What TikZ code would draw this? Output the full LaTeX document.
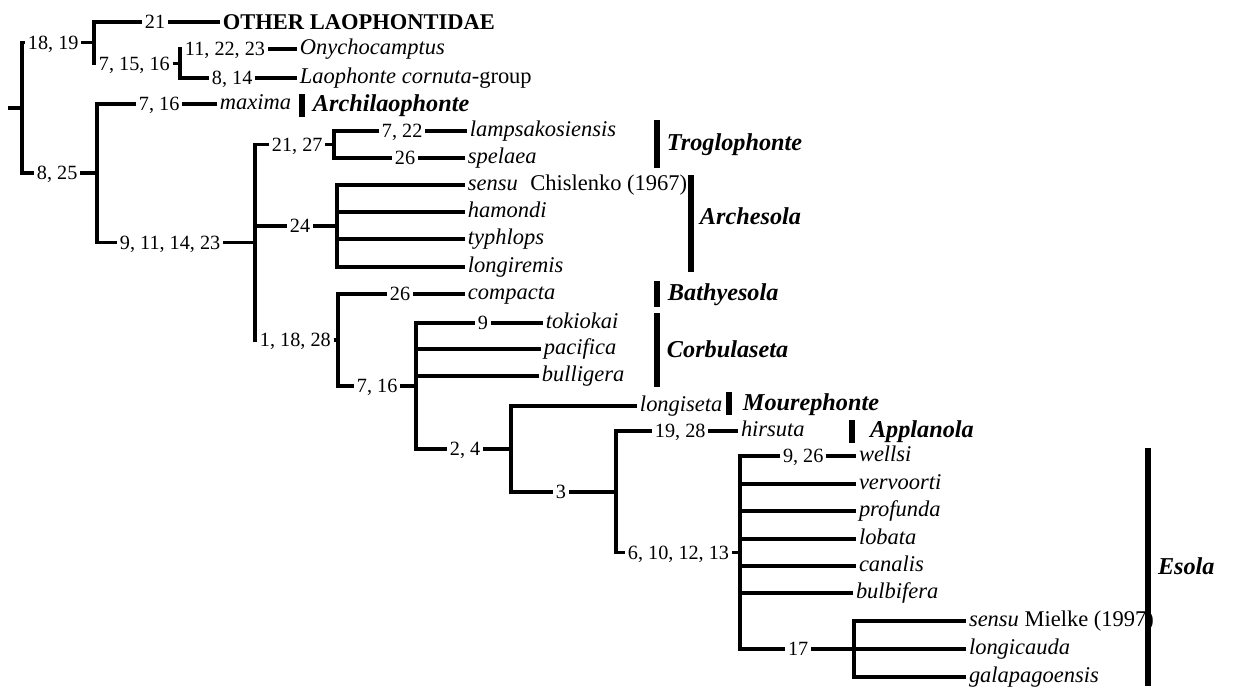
\documentclass[tikz,border=0pt]{standalone}
\usepackage{fontspec}
\setmainfont{Liberation Serif}
\usetikzlibrary{calc}

\tikzset{
	tree/.style={line width=2pt},
	gbar/.style={line width=3.2pt},
	lbl/.style={anchor=west, inner sep=1.5pt, text depth=0pt},
	num/.style={lbl, text height=7.8pt, font=\fontsize{11.5}{13}\selectfont},
	taxon/.style={lbl, text height=6.2pt, font=\fontsize{12.8}{14}\selectfont\itshape},
	outgroup/.style={lbl, text height=8.4pt, font=\fontsize{12.8}{14}\selectfont\bfseries},
	genus/.style={lbl, text height=9pt, font=\fontsize{13.8}{15}\selectfont\bfseries\itshape}
}

\newcommand{\genus}[7] % name, x of bar, top, bottom, label x, label y, text
{
	% bar
	\draw[gbar] (#2,#3) -- (#2,#4);
	% genus name
	\node[genus] (#1) at (#5,#6) {#7};
}

\begin{document}
\begin{tikzpicture}[x=0.02cm, y=-0.02cm]
	% pixel grid of the figure, y downwards
	\useasboundingbox (0,0) rectangle (1253,686);

	% character numbers
	\node[num] (n1819) at (25,42.5) {18, 19};
	\node[num] (n21) at (142,22) {21};
	\node[num] (n71516) at (96,63.5) {7, 15, 16};
	\node[num] (n112223) at (182,49) {11, 22, 23};
	\node[num] (n814) at (209,78) {8, 14};
	\node[num] (n825) at (34,173) {8, 25};
	\node[num] (n716a) at (136,104) {7, 16};
	\node[num] (n9111423) at (117,242.5) {9, 11, 14, 23};
	\node[num] (n2127) at (269,144.5) {21, 27};
	\node[num] (n722) at (379,131) {7, 22};
	\node[num] (n26a) at (392,158) {26};
	\node[num] (n24) at (287,226) {24};
	\node[num] (n11828) at (257,340) {1, 18, 28};
	\node[num] (n26b) at (387,294) {26};
	\node[num] (n716b) at (354,386) {7, 16};
	\node[num] (n9) at (475,323) {9};
	\node[num] (n24b) at (447,449) {2, 4};
	\node[num] (n3) at (553,492) {3};
	\node[num] (n1928) at (652,431) {19, 28};
	\node[num] (n6101213) at (625,552.5) {6, 10, 12, 13};
	\node[num] (n926) at (780,456) {9, 26};
	\node[num] (n17) at (785,649) {17};

	% terminal taxa
	\node[outgroup] (other) at (220,22) {OTHER LAOPHONTIDAE};
	\node[taxon] (onycho) at (297,49) {Onychocamptus};
	\node[taxon] (laoph) at (297,78) {Laophonte cornuta\textup{-group}};
	\node[taxon] (maxima) at (217,104) {maxima};
	\node[taxon] (lamps) at (467,131) {lampsakosiensis};
	\node[taxon] (spelaea) at (465,158) {spelaea};
	\node[taxon] (chislenko) at (465,185) {sensu\hspace{0.55em}\textup{Chislenko (1967)}};
	\node[taxon] (hamondi) at (465,212) {hamondi};
	\node[taxon] (typhlops) at (465,239) {typhlops};
	\node[taxon] (longiremis) at (465,267) {longiremis};
	\node[taxon] (compacta) at (465,294) {compacta};
	\node[taxon] (tokiokai) at (543,323) {tokiokai};
	\node[taxon] (pacifica) at (541,349) {pacifica};
	\node[taxon] (bulligera) at (539,376) {bulligera};
	\node[taxon] (longiseta) at (637,406) {longiseta};
	\node[taxon] (hirsuta) at (738,431) {hirsuta};
	\node[taxon] (wellsi) at (856,456) {wellsi};
	\node[taxon] (vervoorti) at (856,484) {vervoorti};
	\node[taxon] (profunda) at (856,511) {profunda};
	\node[taxon] (lobata) at (856,539) {lobata};
	\node[taxon] (canalis) at (856,566) {canalis};
	\node[taxon] (bulbifera) at (853,593) {bulbifera};
	\node[taxon] (mielke) at (966,621) {sensu \textup{Mielke (1997)}};
	\node[taxon] (longicauda) at (966,649) {longicauda};
	\node[taxon] (galapagoensis) at (966,677) {galapagoensis};

	% split points
	\coordinate (root) at (8,107.75);
	\coordinate (b0) at (22,107.75);
	\coordinate (b1) at (94,42.5);
	\coordinate (b2) at (180,63.5);
	\coordinate (b3) at (97,173);
	\coordinate (b4) at (255,242.5);
	\coordinate (b5) at (334,144.5);
	\coordinate (b6) at (337,226);
	\coordinate (b7) at (338,340);
	\coordinate (b8) at (416,386);
	\coordinate (b9) at (511,449);
	\coordinate (b10) at (616,492);
	\coordinate (b11) at (740,552.5);
	\coordinate (b12) at (854,649);

	% branches
	\draw[tree] (root) -- (b0);
	\draw[tree] (n1819.west) -| (b0) |- (n825.west);
	\draw[tree] (n1819.east) -- (b1);
	\draw[tree] (n21.west) -| (b1) |- (n71516.west);
	\draw[tree] (n21.east) -- (other.west);
	\draw[tree] (n71516.east) -- (b2);
	\draw[tree] (n112223.west) -| (b2) |- (n814.west);
	\draw[tree] (n112223.east) -- (onycho.west);
	\draw[tree] (n814.east) -- (laoph.west);

	\draw[tree] (n825.east) -- (b3);
	\draw[tree] (n716a.west) -| (b3) |- (n9111423.west);
	\draw[tree] (n716a.east) -- (maxima.west);
	\draw[tree] (n9111423.east) -- (b4);
	\draw[tree] (n2127.west) -| (b4) |- (n11828.west);
	\draw[tree] (b4 |- n24.west) -- (n24.west);

	\draw[tree] (n2127.east) -- (b5);
	\draw[tree] (n722.west) -| (b5) |- (n26a.west);
	\draw[tree] (n722.east) -- (lamps.west);
	\draw[tree] (n26a.east) -- (spelaea.west);

	\draw[tree] (n24.east) -- (b6);
	\draw[tree] (chislenko.west) -| (b6) |- (longiremis.west);
	\foreach \leaf in {hamondi, typhlops}
		\draw[tree] (b6 |- \leaf.west) -- (\leaf.west);

	\draw[tree] (n11828.east) -- (b7);
	\draw[tree] (n26b.west) -| (b7) |- (n716b.west);
	\draw[tree] (n26b.east) -- (compacta.west);
	\draw[tree] (n716b.east) -- (b8);
	\draw[tree] (n9.west) -| (b8) |- (n24b.west);
	\draw[tree] (n9.east) -- (tokiokai.west);
	\foreach \leaf in {pacifica, bulligera}
		\draw[tree] (b8 |- \leaf.west) -- (\leaf.west);

	\draw[tree] (n24b.east) -- (b9);
	\draw[tree] (longiseta.west) -| (b9) |- (n3.west);
	\draw[tree] (n3.east) -- (b10);
	\draw[tree] (n1928.west) -| (b10) |- (n6101213.west);
	\draw[tree] (n1928.east) -- (hirsuta.west);

	\draw[tree] (n6101213.east) -- (b11);
	\draw[tree] (n926.west) -| (b11) |- (n17.west);
	\draw[tree] (n926.east) -- (wellsi.west);
	\foreach \leaf in {vervoorti, profunda, lobata, canalis, bulbifera}
		\draw[tree] (b11 |- \leaf.west) -- (\leaf.west);
	\draw[tree] (n17.east) -- (longicauda.west);
	\draw[tree] (mielke.west) -| (b12) |- (galapagoensis.west);

	% genera
	\genus{archilaophonte}{302}{94}{117}{310}{104}{Archilaophonte}
	\genus{troglophonte}{657}{120}{168}{664}{143}{Troglophonte}
	\genus{archesola}{691}{175}{272}{697}{217}{Archesola}
	\genus{bathyesola}{657}{281}{307}{665}{293}{Bathyesola}
	\genus{corbulaseta}{657}{313}{387}{664}{350}{Corbulaseta}
	\genus{mourephonte}{729}{392}{415}{740}{403}{Mourephonte}
	\genus{applanola}{852}{420}{443}{867}{430}{Applanola}
	\genus{esola}{1148}{448}{686}{1155}{567}{Esola}
\end{tikzpicture}
\end{document}
